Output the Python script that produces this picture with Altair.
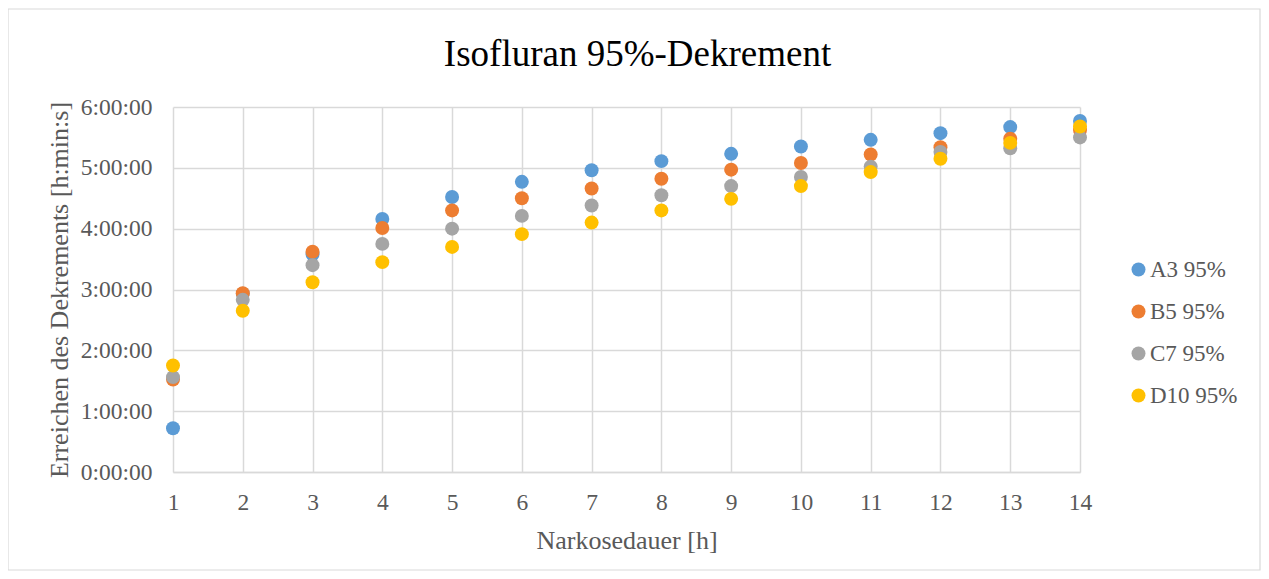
import altair as alt
import pandas as pd

hours = list(range(1, 15))
series_names = ["A3 95%", "B5 95%", "C7 95%", "D10 95%"]
a3 = [0.72, 2.93, 3.58, 4.16, 4.52, 4.77, 4.96, 5.11, 5.23, 5.35, 5.46, 5.57, 5.67, 5.77]
b5 = [1.52, 2.94, 3.62, 4.01, 4.30, 4.50, 4.66, 4.82, 4.97, 5.08, 5.22, 5.34, 5.48, 5.62]
c7 = [1.56, 2.83, 3.40, 3.75, 4.00, 4.21, 4.38, 4.55, 4.70, 4.85, 5.02, 5.26, 5.32, 5.50]
d10 = [1.75, 2.65, 3.12, 3.45, 3.70, 3.91, 4.10, 4.30, 4.49, 4.70, 4.93, 5.15, 5.41, 5.68]
colors = ["#5B9BD5", "#ED7D31", "#A5A5A5", "#FFC000"]
y_ticks = [0, 1, 2, 3, 4, 5, 6]

rows = []
for name, vals in zip(series_names, [a3, b5, c7, d10]):
    for h, v in zip(hours, vals):
        rows.append({"Narkosedauer": h, "Wert": v, "Serie": name})
df = pd.DataFrame(rows)

FONT = "Liberation Serif"
W, H = 907, 365

frame = alt.Chart(pd.DataFrame({"a": [0]})).mark_rect(
    fill=None, fillOpacity=0, stroke="#d9d9d9", strokeWidth=1.2, clip=False
).encode(
    x=alt.value(-165), x2=alt.value(W + 180),
    y=alt.value(-98), y2=alt.value(H + 98),
)

points = alt.Chart(df).mark_circle(size=195, opacity=1).encode(
    x=alt.X("Narkosedauer:Q",
            scale=alt.Scale(domain=[1, 14], nice=False, zero=False),
            axis=alt.Axis(title="Narkosedauer [h]", values=hours, format="d",
                          labelFlush=False)),
    y=alt.Y("Wert:Q",
            scale=alt.Scale(domain=[0, 6], nice=False),
            axis=alt.Axis(title="Erreichen des Dekrements [h:min:s]",
                          values=y_ticks, labelFlush=False,
                          labelExpr="datum.value + ':00:00'")),
    color=alt.Color("Serie:N",
                    scale=alt.Scale(domain=series_names, range=colors),
                    legend=alt.Legend(title=None, orient="none",
                                      legendX=954, legendY=151,
                                      symbolSize=195, symbolType="circle",
                                      labelFontSize=23, labelFont=FONT,
                                      labelColor="#595959", rowPadding=18,
                                      labelOffset=0)),
)

chart = alt.layer(points, frame).properties(
    width=W, height=H,
    autosize=alt.AutoSizeParams(type="none"),
    padding={"left": 165, "top": 99, "right": 181, "bottom": 99},
    title=alt.TitleParams("Isofluran 95%-Dekrement", font=FONT, fontSize=37,
                          fontWeight="normal", color="#000000", offset=-95,
                          baseline="alphabetic",
                          dx=11, anchor="middle", frame="group"),
    background="white",
).configure_view(stroke=None).configure_axis(
    labelFont=FONT, titleFont=FONT, labelFontSize=23.5, titleFontSize=26,
    labelColor="#595959", titleColor="#595959", titleFontWeight="normal",
    gridColor="#d9d9d9", gridWidth=1.5, ticks=False, domain=False,
).configure_axisX(
    labelPadding=18, titlePadding=14, domain=True, domainColor="#d9d9d9",
    domainWidth=1.5,
).configure_axisY(
    labelPadding=21, titlePadding=8,
)

chart.save("out.html", embed_options={"renderer": "svg", "actions": False})
